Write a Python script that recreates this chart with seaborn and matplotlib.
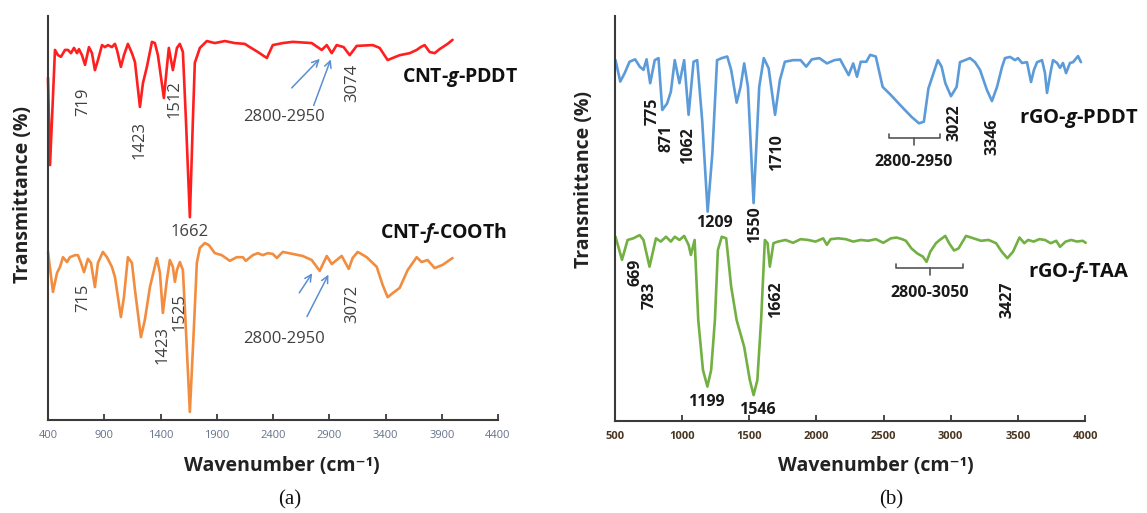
import matplotlib
matplotlib.use("Agg")
import matplotlib.pyplot as plt
import seaborn as sns
import pandas as pd

# (a) CNT spectra, wavenumber (cm-1) / transmittance (a.u. 0-100)
cnt_pddt_wn = [400, 418, 462, 489, 515, 551, 578, 604, 631, 658, 675, 702, 729, 764, 791, 817, 844,
               880, 906, 933, 968, 995, 1013, 1048, 1075, 1110, 1146, 1173, 1217, 1244, 1279, 1324,
               1350, 1377, 1430, 1457, 1474, 1510, 1546, 1572, 1599, 1626, 1661, 1688, 1705, 1750,
               1812, 1883, 1972, 2060, 2149, 2194, 2265, 2345, 2398, 2487, 2576, 2744, 2833, 2878,
               2922, 2966, 3028, 3082, 3144, 3286, 3348, 3419, 3526, 3615, 3677, 3712, 3748, 3792,
               3837, 3881, 3952, 3996]
cnt_pddt_t = [84.7, 63.1, 91.6, 90.3, 89.9, 91.6, 91.6, 90.8, 92.1, 90.8, 91.8, 90.3, 87.9, 92.3,
              90.8, 86.6, 89.1, 92.8, 92.3, 92.8, 92.3, 93.1, 91.6, 87.4, 90.3, 93.1, 90.8, 88.6,
              77.5, 83.4, 87.4, 93.6, 93.3, 90.3, 79.7, 87.4, 92.1, 86.6, 92.1, 93.1, 91.1, 74.3,
              50.2, 74.3, 88.4, 92.1, 93.8, 93.3, 93.8, 93.3, 93.1, 92.3, 91.1, 89.6, 92.8, 93.3,
              93.6, 93.3, 91.6, 92.8, 90.8, 92.8, 92.3, 90.3, 92.6, 92.8, 92.1, 89.1, 90.3, 90.8,
              91.6, 92.3, 92.8, 91.1, 90.8, 91.8, 93.1, 94.1]

cnt_cooth_wn = [400, 444, 480, 507, 533, 569, 595, 640, 666, 693, 720, 755, 782, 817, 844, 888, 924,
                968, 995, 1048, 1075, 1110, 1146, 1173, 1226, 1261, 1306, 1368, 1395, 1421, 1457,
                1483, 1510, 1528, 1546, 1572, 1599, 1626, 1661, 1696, 1723, 1750, 1794, 1830, 1883,
                1945, 2016, 2078, 2132, 2158, 2220, 2265, 2309, 2354, 2398, 2434, 2487, 2576, 2664,
                2744, 2815, 2878, 2922, 2966, 3011, 3073, 3108, 3153, 3233, 3322, 3375, 3419, 3464,
                3526, 3597, 3677, 3721, 3774, 3837, 3908, 3996]
cnt_cooth_t = [41.6, 31.7, 36.4, 37.9, 40.3, 39.1, 40.3, 40.8, 40.8, 38.9, 36.6, 39.9, 38.9, 32.9,
               38.9, 41.6, 40.3, 37.9, 35.4, 25.5, 30.4, 40.3, 38.9, 32.2, 20.5, 24.8, 32.9, 40.1,
               36.4, 26.5, 34.7, 39.6, 37.9, 34.2, 37.1, 39.1, 37.1, 22.3, 2.0, 22.3, 38.9, 42.6,
               43.8, 43.3, 41.3, 40.8, 39.4, 40.3, 40.3, 39.4, 40.8, 41.3, 40.8, 41.3, 41.1, 40.1,
               41.6, 41.1, 40.6, 39.6, 36.9, 40.6, 38.6, 39.6, 40.6, 37.4, 40.1, 41.6, 40.3, 37.9,
               33.4, 30.4, 31.4, 32.7, 37.1, 40.3, 39.1, 39.6, 37.6, 38.4, 40.1]

# (b) rGO spectra
rgo_pddt_wn = [504, 539, 572, 608, 650, 684, 712, 735, 762, 796, 824, 852, 888, 916, 945, 980, 1015,
               1048, 1085, 1112, 1149, 1190, 1225, 1260, 1295, 1336, 1365, 1406, 1435, 1462, 1490,
               1532, 1574, 1608, 1644, 1692, 1728, 1765, 1826, 1882, 1924, 1966, 2022, 2078, 2134,
               2176, 2240, 2274, 2302, 2330, 2372, 2400, 2442, 2470, 2493, 2554, 2624, 2708, 2764,
               2800, 2834, 2904, 2932, 2960, 3002, 3044, 3069, 3144, 3181, 3218, 3270, 3307, 3345,
               3382, 3404, 3442, 3479, 3501, 3531, 3568, 3598, 3620, 3643, 3680, 3702, 3717, 3747,
               3762, 3792, 3814, 3836, 3859, 3888, 3911, 3948, 3970]
rgo_pddt_t = [89.1, 83.8, 85.9, 88.7, 89.3, 87.5, 86.7, 89.3, 83.4, 89.1, 89.6, 76.8, 78.4, 81.3,
              89.1, 83.4, 89.1, 75.6, 88.7, 89.1, 74.3, 51.7, 66.1, 89.1, 89.6, 90.0, 86.7, 78.6,
              82.5, 88.3, 82.5, 53.8, 82.5, 89.6, 87.1, 75.6, 84.2, 88.7, 89.1, 89.1, 87.5, 89.3,
              89.6, 88.3, 89.1, 89.3, 85.4, 88.3, 85.0, 88.7, 88.7, 90.4, 90.0, 85.9, 82.5, 80.5,
              78.0, 75.1, 73.5, 73.9, 82.1, 89.1, 87.5, 83.4, 80.2, 82.5, 88.6, 89.6, 88.6, 86.7,
              81.7, 79.0, 82.5, 87.4, 89.6, 89.9, 89.1, 89.6, 88.4, 88.6, 83.7, 86.7, 88.6, 89.1,
              85.9, 81.0, 86.7, 89.1, 88.4, 87.2, 88.4, 85.9, 88.4, 88.6, 90.1, 88.6]

rgo_taa_wn = [504, 552, 594, 636, 684, 712, 757, 805, 841, 880, 916, 945, 980, 1015, 1048, 1065, 1093,
              1120, 1155, 1188, 1216, 1244, 1266, 1295, 1328, 1365, 1406, 1462, 1504, 1532, 1560,
              1588, 1616, 1636, 1653, 1680, 1714, 1770, 1826, 1882, 1938, 1994, 2050, 2078, 2106,
              2162, 2218, 2274, 2330, 2386, 2442, 2498, 2554, 2596, 2638, 2666, 2708, 2750, 2792,
              2820, 2848, 2890, 2918, 2960, 2988, 3025, 3058, 3114, 3170, 3226, 3282, 3338, 3380,
              3422, 3464, 3512, 3548, 3576, 3618, 3660, 3702, 3744, 3786, 3814, 3856, 3898, 3940,
              3983, 4005]
rgo_taa_t = [45.5, 39.8, 44.7, 45.1, 45.9, 44.7, 38.1, 45.1, 44.3, 45.5, 44.3, 45.5, 44.7, 45.7,
             43.5, 41.0, 44.7, 24.9, 12.6, 8.5, 12.6, 24.9, 42.2, 45.5, 45.1, 33.2, 24.9, 18.3,
             10.1, 6.4, 10.1, 24.9, 44.7, 43.9, 38.1, 43.9, 44.3, 44.7, 44.0, 44.9, 44.7, 44.3,
             45.1, 43.5, 44.9, 45.1, 44.9, 44.3, 44.7, 44.5, 44.9, 44.0, 45.1, 45.3, 44.9, 44.5,
             42.6, 41.4, 40.6, 39.3, 41.8, 43.9, 44.7, 45.7, 43.9, 42.1, 42.6, 45.7, 45.1, 44.5,
             44.7, 43.9, 41.8, 40.2, 41.8, 45.3, 43.9, 44.7, 44.3, 44.9, 44.7, 43.9, 44.5, 43.0,
             44.3, 44.7, 44.3, 44.5, 44.0]

ticks_a = list(range(400, 4401, 500))
ticks_b = list(range(500, 4001, 500))

sns.set_theme(style="white")
plt.rcParams["font.family"] = ["Open Sans", "DejaVu Sans"]
plt.rcParams["mathtext.fontset"] = "custom"
plt.rcParams["mathtext.rm"] = "Open Sans"
plt.rcParams["mathtext.it"] = "Open Sans:italic:bold"
plt.rcParams["mathtext.bf"] = "Open Sans:bold"

fig = plt.figure(figsize=(11.47, 5.13), dpi=100)
W, H = 1147, 513
ax_a = fig.add_axes([48 / W, 1 - 420 / H, 450 / W, 404 / H])
ax_b = fig.add_axes([615 / W, 1 - 421 / H, 470 / W, 405 / H])

spectra = [
    (ax_a, cnt_pddt_wn, cnt_pddt_t, "#ff1f1f"),
    (ax_a, cnt_cooth_wn, cnt_cooth_t, "#f28c3f"),
    (ax_b, rgo_pddt_wn, rgo_pddt_t, "#5b9bd9"),
    (ax_b, rgo_taa_wn, rgo_taa_t, "#72b043"),
]
for ax, wn, t, col in spectra:
    df = pd.DataFrame({"wn": wn, "t": t})
    sns.lineplot(data=df, x="wn", y="t", ax=ax, color=col, linewidth=1.9,
                 estimator=None, sort=False, clip_on=False)

for ax, ticks, lim, lab_col, lab_w in [(ax_a, ticks_a, (400, 4400), "#66708a", "normal"),
                                       (ax_b, ticks_b, (500, 4000), "#4a3622", "bold")]:
    ax.set_xlim(*lim)
    ax.set_ylim(0, 100)
    ax.set_xticks(ticks)
    ax.set_xticklabels([str(v) for v in ticks], fontsize=8, color=lab_col, fontweight=lab_w)
    ax.set_yticks([])
    ax.set_xlabel("")
    ax.set_ylabel("")
    for s in ["top", "right"]:
        ax.spines[s].set_visible(False)
    for s in ["left", "bottom"]:
        ax.spines[s].set_color("#3a3a3a")
        ax.spines[s].set_linewidth(1.5)
    ax.tick_params(axis="x", direction="in", length=4, width=1.3, color="#3a3a3a", pad=7,
                   bottom=True)
    ax.patch.set_alpha(0)

# peak labels (a)
ca = "#404040"
for txt, x, y, rot in [("719", 711, 78.7, 90), ("1423", 1217, 69.3, 90), ("1512", 1528, 79.5, 90),
                       ("1662", 1661, 46.5, 0), ("2800-2950", 2496, 75.0, 0), ("3074", 3108, 83.4, 90),
                       ("715", 711, 30.2, 90), ("1423", 1421, 18.6, 90), ("1525", 1572, 26.7, 90),
                       ("2800-2950", 2496, 20.0, 0), ("3072", 3108, 28.7, 90)]:
    ax_a.text(x, y, txt, rotation=rot, ha="center", va="center", fontsize=12, color=ca)
ax_a.text(3544, 84.9, r"CNT-$\mathit{g}$-PDDT", ha="left", va="center", fontsize=14,
          fontweight="bold", color="#111111", clip_on=False)
ax_a.text(3348, 46.3, r"CNT-$\mathit{f}$-COOTh", ha="left", va="center", fontsize=14,
          fontweight="bold", color="#111111", clip_on=False)
for (x0, y0), (x1, y1) in [((2549, 81.7), (2833, 89.9)), ((2753, 77.2), (2922, 89.9)),
                           ((2620, 30.9), (2762, 36.9)), ((2691, 25.0), (2904, 36.6))]:
    ax_a.annotate("", xy=(x1, y1), xytext=(x0, y0),
                  arrowprops=dict(arrowstyle="->", color="#5b8fd0", lw=1.1))

# peak labels (b)
cb = "#1a1a1a"
for txt, x, y, rot in [("775", 783, 76.5, 90), ("871", 880, 69.9, 90), ("1062", 1044, 68.1, 90),
                       ("1209", 1237, 48.9, 0), ("1550", 1543, 48.4, 90), ("1710", 1706, 66.2, 90),
                       ("2800-2950", 2727, 64.0, 0), ("3022", 3025, 73.6, 90), ("3346", 3308, 70.1, 90),
                       ("669", 649, 36.8, 90), ("783", 761, 31.1, 90), ("1199", 1178, 4.7, 0),
                       ("1546", 1557, 2.7, 0), ("1662", 1699, 29.9, 90), ("2800-3050", 2846, 31.6, 0),
                       ("3427", 3419, 29.9, 90)]:
    ax_b.text(x, y, txt, rotation=rot, ha="center", va="center", fontsize=11.5,
              fontweight="bold", color=cb, clip_on=False)
ax_b.text(3509, 74.8, r"rGO-$\mathit{g}$-PDDT", ha="left", va="center", fontsize=14.5,
          fontweight="bold", color="#111111", clip_on=False)
ax_b.text(3576, 36.8, r"rGO-$\mathit{f}$-TAA", ha="left", va="center", fontsize=14.5,
          fontweight="bold", color="#111111", clip_on=False)
for x0, x1, yb in [(2540, 2920, 69.9), (2593, 3092, 37.8)]:
    xm = (x0 + x1) / 2
    ax_b.plot([x0, x0, x1, x1], [yb + 1.0, yb, yb, yb + 1.0], color="#555555", lw=1.2)
    ax_b.plot([xm, xm], [yb, yb - 1.8], color="#555555", lw=1.2)

# axis titles and panel letters
for xc, yc in [(23, 195), (584, 180)]:
    fig.text(xc / W, 1 - yc / H, "Transmittance (%)", rotation=90, ha="center", va="center",
             fontsize=14, fontweight="bold", color="#222222")
for xc in [282, 876]:
    fig.text(xc / W, 1 - 466 / H, "Wavenumber (cm\u207b\u00b9)", ha="center", va="center",
             fontsize=14, fontweight="bold", color="#222222",
             family=["Open Sans", "DejaVu Sans"])
for xc, lab in [(290, "(a)"), (891, "(b)")]:
    fig.text(xc / W, 1 - 500 / H, lab, ha="center", va="center", fontsize=15,
             family="Liberation Serif", color="#111111")

fig.savefig("out.png", dpi=100, facecolor="white")
